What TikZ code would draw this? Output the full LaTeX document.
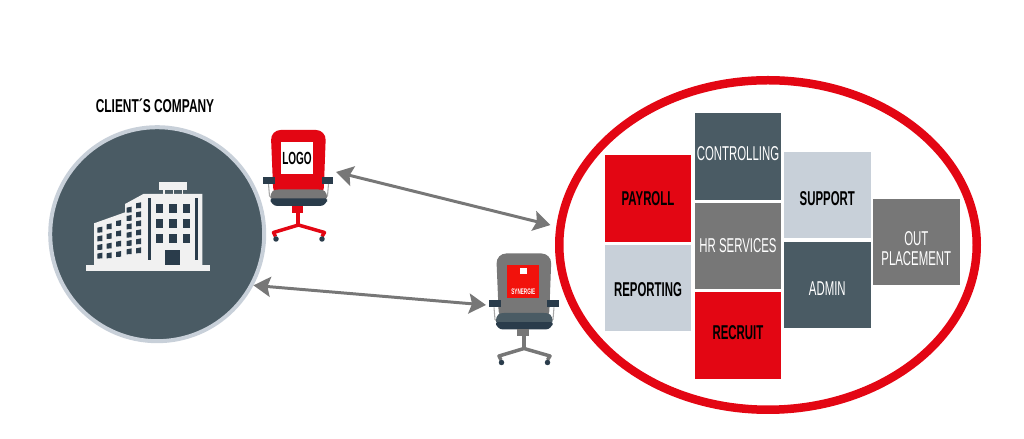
\documentclass[tikz,border=0pt]{standalone}
\usepackage{fontspec}
\usepackage{tikz}
\usetikzlibrary{arrows.meta,shapes.geometric}
\usepackage{xcolor}
\newfontfamily\bebasfont[FakeStretch=0.57]{Liberation Sans}
\newfontfamily\titlefont[FakeStretch=0.64]{Liberation Sans}
\definecolor{brandred}{HTML}{E30613}
\definecolor{logored}{HTML}{F2120C}
\definecolor{slate}{HTML}{4A5B64}
\definecolor{navy}{HTML}{2A3C4B}
\definecolor{mist}{HTML}{C8D0D9}
\definecolor{midgray}{HTML}{777777}
\definecolor{wall}{HTML}{F1F1F1}
\tikzset{
  tile/.style={minimum size=1.73cm,inner sep=0pt,outer sep=0pt,align=center,
    font=\bebasfont\fontsize{11.4}{13}\selectfont},
  tilered/.style={tile,fill=brandred,text=black,font=\bebasfont\bfseries\fontsize{11.4}{13}\selectfont},
  tilemist/.style={tile,fill=mist,text=black,font=\bebasfont\bfseries\fontsize{11.4}{13}\selectfont},
  tileslate/.style={tile,fill=slate,text=white},
  tilegray/.style={tile,fill=midgray,text=white},
  textup/.style={text height=.286cm,text depth=#1},
  textdown/.style={text height=#1,text depth=0pt},
  link/.style={{Stealth[length=3.4mm,width=4mm,inset=0.6mm]}-{Stealth[length=3.4mm,width=4mm,inset=0.6mm]},
    midgray,line width=1.7pt},
  pics/chair/.style n args={4}{code={
    \draw[gray!70,line width=0.6pt] (-.6,.02) -- (-.58,-.22) -- (-.5,-.3);
    \draw[gray!70,line width=0.6pt] (.6,.02) -- (.58,-.22) -- (.5,-.3);
    \fill[#1,rounded corners=.2cm] (-.5,-.25) -- (-.556,1.1) -- (.55,1.1) -- (.5,-.25) -- cycle;
    \fill[navy] (-.704,.02) rectangle (-.47,.166);
    \fill[navy] (.464,.02) rectangle (.69,.166);
    \fill[navy,rounded corners=.14cm] (-.56,-.2) rectangle (.57,-.42);
    \fill[#2] (-.56,-.27) .. controls (-.56,-.12) and (-.5,-.09) .. (-.4,-.09) -- (.4,-.09)
      .. controls (.51,-.09) and (.57,-.12) .. (.57,-.27) -- cycle;
    \fill[#3] (-.136,-.42) rectangle (.096,-.56);
    \fill[#4] (-.05,-.56) rectangle (.03,-.84);
    \draw[#4,line width=.07cm,line join=round] (-.46,-1.03) -- (-.5,-.95) -- (0,-.8) -- (.52,-.95) -- (.47,-1.03);
    \fill[navy] (-.45,-1.08) circle (.055);
    \fill[navy] (.47,-1.08) circle (.055);
  }}
}

\begin{document}
\begin{tikzpicture}[line cap=butt]
\useasboundingbox (0,0) rectangle (20.48,8.78);

% client
\node[circle,draw=mist,fill=slate,line width=.08cm,minimum size=4.28cm,inner sep=0pt] (client) at (3.144,4.096) {};
\node[font=\titlefont\bfseries\fontsize{10.6}{12}\selectfont] (clientname) at (3.1,6.66) {CLIENT´S COMPANY};

% building
\begin{scope}[shift={(1.6,5.38)},x=0.006667cm,y=-0.006667cm]
\fill[wall] (18,285) rectangle (390,302);
\fill[wall] (42,160) -- (135,127) -- (135,102) -- (190,72) -- (367,72) -- (367,285) -- (42,285) -- cycle;
\fill[wall] (238,35) rectangle (320,60);
\fill[wall] (250,60) rectangle (254,72);
\fill[wall] (278,60) rectangle (282,72);
\fill[wall] (305,60) rectangle (309,72);
\fill[navy] (203,85) rectangle (212,270);
\fill[navy] (345,85) rectangle (354,270);
\foreach \winx in {227,267,308}
  \foreach \winy in {103,148,192}
    \fill[navy] (\winx,\winy) rectangle ++(23,27);
\fill[navy] (256,240) rectangle (300,285);
\foreach \winx/\wintop/\wingap/\winrows in {168/97/27/5,140/110/25/5,108/150/31/3,80/160/29/3,52/170/26/3}
  \foreach \winrow in {0,...,\winrows}
    \fill[navy] (\winx,\wintop+\winrow*\wingap+3) -- ++(15,-3) -- ++(0,17) -- ++(-15,1) -- cycle;
\end{scope}

% chairs
\pic at (5.97,5.08) {chair={brandred}{midgray}{brandred}{brandred}};
\node[fill=white,minimum size=.653cm,inner sep=0pt,font=\bebasfont\bfseries\fontsize{10}{11}\selectfont] (logo) at (5.94,5.62) {LOGO};
\pic at (10.48,2.61) {chair={midgray}{slate}{midgray}{midgray}};
\node[fill=logored,minimum size=.653cm,inner sep=0pt] (brand) at (10.46,3.156) {};
\node[fill=white,minimum size=.13cm,inner sep=0pt] (brandmark) at (10.466,3.362) {};
\node[text=white,inner sep=0pt,font=\bebasfont\bfseries\fontsize{4.6}{5}\selectfont] (brandname) at (10.466,2.95) {SYNERGIE};

% services
\node[ellipse,draw=brandred,line width=.17cm,minimum width=8.35cm,minimum height=6.59cm,inner sep=0pt] (team) at (15.36,3.88) {};
\node[tilered] (payroll) at (12.96,4.81) {PAYROLL};
\node[tilemist,textdown=.346cm] (reporting) at (12.96,3.02) {REPORTING};
\node[tileslate,textup=.12cm] (controlling) at (14.76,5.654) {CONTROLLING};
\node[tilegray] (hrservices) at (14.76,3.86) {HR SERVICES};
\node[tilered,textup=.12cm] (recruit) at (14.76,2.066) {RECRUIT};
\node[tilemist,textdown=.406cm] (support) at (16.546,4.88) {SUPPORT};
\node[tileslate,textdown=.446cm] (admin) at (16.546,3.084) {ADMIN};
\node[tilegray] (outplacement) at (18.326,3.94) {\rule{0pt}{.54cm}OUT\\[-2pt]PLACEMENT};

% arrows
\coordinate (logoside) at (6.72,5.34);
\coordinate (brandside) at (9.72,2.68);
\draw[link,shorten >=.12cm] (logoside) -- (team.175);
\draw[link] (client.-28) -- (brandside);
\end{tikzpicture}
\end{document}
